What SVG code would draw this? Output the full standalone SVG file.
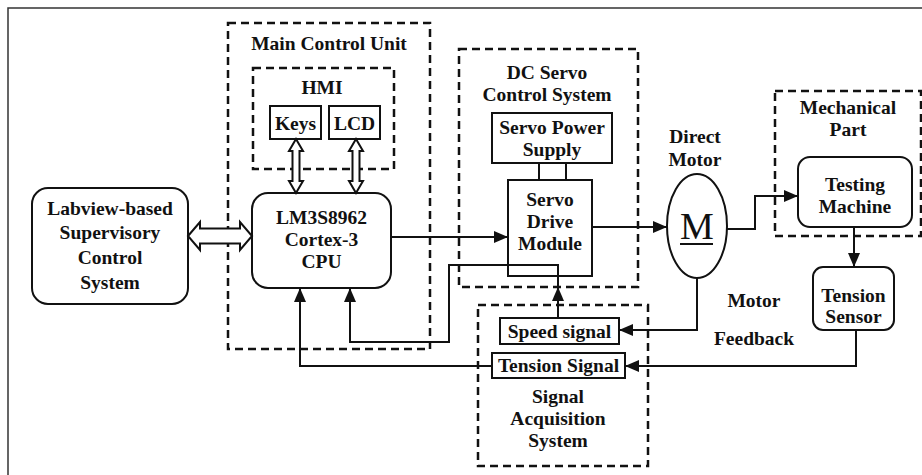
<svg xmlns="http://www.w3.org/2000/svg" width="922" height="475" viewBox="0 0 922 475">
<defs>
<style>
text{font-family:"Liberation Serif","Times New Roman",serif;font-weight:bold;font-size:19.5px;fill:#111;text-anchor:middle}
.box{fill:#fff;stroke:#111;stroke-width:2}
.dash{fill:none;stroke:#111;stroke-width:2.5;stroke-dasharray:8 5}
.ln{fill:none;stroke:#111;stroke-width:2}
.hol{fill:#fff;stroke:#111;stroke-width:2;stroke-linejoin:miter}
</style>
<marker id="ah" viewBox="0 0 14 12" refX="14" refY="6" markerWidth="14" markerHeight="12" markerUnits="userSpaceOnUse" orient="auto">
<path d="M0,0 L14,6 L0,12 Z" fill="#111"/>
</marker>
</defs>
<rect x="0" y="0" width="922" height="475" fill="#fff"/>
<rect x="8" y="8" width="940" height="500" fill="none" stroke="#333" stroke-width="1.5"/>

<g id="main-control-unit">
<rect class="dash" x="228" y="23" width="202" height="326"/>
<text x="329" y="50">Main Control Unit</text>
</g>
<g id="hmi">
<rect class="dash" x="253" y="68" width="141" height="101"/>
<text x="322" y="94">HMI</text>
</g>
<g id="keys">
<rect class="box" x="270" y="106" width="51" height="33"/>
<text x="295.5" y="130">Keys</text>
</g>
<g id="lcd">
<rect class="box" x="329" y="106" width="51" height="33"/>
<text x="354.5" y="130">LCD</text>
</g>
<g id="cpu">
<rect class="box" x="252" y="193" width="139" height="95" rx="16"/>
<text x="321.5" y="224">LM3S8962</text>
<text x="321.5" y="246">Cortex-3</text>
<text x="321.5" y="268">CPU</text>
</g>
<g id="labview">
<rect class="box" x="32" y="188" width="156" height="116" rx="16"/>
<text x="110" y="215">Labview-based</text>
<text x="110" y="239">Supervisory</text>
<text x="110" y="264">Control</text>
<text x="110" y="289">System</text>
</g>
<g id="dc-servo">
<rect class="dash" x="459" y="49" width="179" height="238"/>
<text x="547" y="79">DC Servo</text>
<text x="547" y="101">Control System</text>
</g>
<g id="servo-power">
<rect class="box" x="492" y="113" width="120" height="50"/>
<text x="552" y="134">Servo Power</text>
<text x="552" y="156">Supply</text>
</g>
<g id="servo-drive">
<rect class="box" x="508" y="180" width="84" height="96"/>
<text x="550" y="206">Servo</text>
<text x="550" y="228">Drive</text>
<text x="550" y="250">Module</text>
</g>
<g id="motor">
<text x="695" y="143">Direct</text>
<text x="695" y="166">Motor</text>
<ellipse class="box" cx="697" cy="226" rx="30" ry="52"/>
<text x="697" y="239" style="font-weight:normal;font-size:38px">M</text>
<line x1="680" y1="244" x2="713" y2="244" stroke="#111" stroke-width="2"/>
</g>
<g id="mechanical-part">
<rect class="dash" x="775" y="91" width="146" height="145"/>
<text x="848" y="114">Mechanical</text>
<text x="848" y="136">Part</text>
</g>
<g id="testing-machine">
<rect class="box" x="798" y="157" width="114" height="70" rx="12"/>
<text x="855" y="191">Testing</text>
<text x="855" y="213">Machine</text>
</g>
<g id="tension-sensor">
<rect class="box" x="813" y="267" width="81" height="63" rx="10"/>
<text x="853.5" y="302">Tension</text>
<text x="853.5" y="323">Sensor</text>
</g>
<g id="signal-acquisition">
<rect class="dash" x="478" y="305" width="170" height="161"/>
<text x="558" y="403">Signal</text>
<text x="558" y="425">Acquisition</text>
<text x="558" y="447">System</text>
</g>
<g id="speed-signal">
<rect class="box" x="500" y="318" width="119" height="26"/>
<text x="559.5" y="338">Speed signal</text>
</g>
<g id="tension-signal">
<rect class="box" x="492" y="353" width="133" height="25"/>
<text x="558.5" y="372">Tension Signal</text>
</g>
<g id="feedback-label">
<text x="754" y="307">Motor</text>
<text x="754" y="345">Feedback</text>
</g>

<g id="connectors">
<polygon class="hol" points="188,236 200,222 200,228.5 240,228.5 240,222 252,236 240,250 240,243.5 200,243.5 200,250"/>
<polygon class="hol" points="296,139 303,151 299.5,151 299.5,181 303,181 296,193 289,181 292.5,181 292.5,151 289,151"/>
<polygon class="hol" points="356,139 363,151 359.5,151 359.5,181 363,181 356,193 349,181 352.5,181 352.5,151 349,151"/>
<line class="ln" x1="391" y1="237" x2="508" y2="237" marker-end="url(#ah)"/>
<line class="ln" x1="539" y1="163" x2="539" y2="180"/>
<line class="ln" x1="566" y1="163" x2="566" y2="180"/>
<line class="ln" x1="592" y1="227" x2="667" y2="227" marker-end="url(#ah)"/>
<polyline class="ln" points="727,229 755,229 755,196 798,196" marker-end="url(#ah)"/>
<line class="ln" x1="854" y1="227" x2="854" y2="267" marker-end="url(#ah)"/>
<polyline class="ln" points="856,330 856,366 625,366" marker-end="url(#ah)"/>
<polyline class="ln" points="697,278 697,330 619,330" marker-end="url(#ah)"/>
<line class="ln" x1="558" y1="318" x2="558" y2="287" marker-end="url(#ah)"/>
<polyline class="ln" points="558,290 558,265 449,265 449,342 350,342 350,288" marker-end="url(#ah)"/>
<polyline class="ln" points="492,366 300,366 300,288" marker-end="url(#ah)"/>
</g>
</svg>
